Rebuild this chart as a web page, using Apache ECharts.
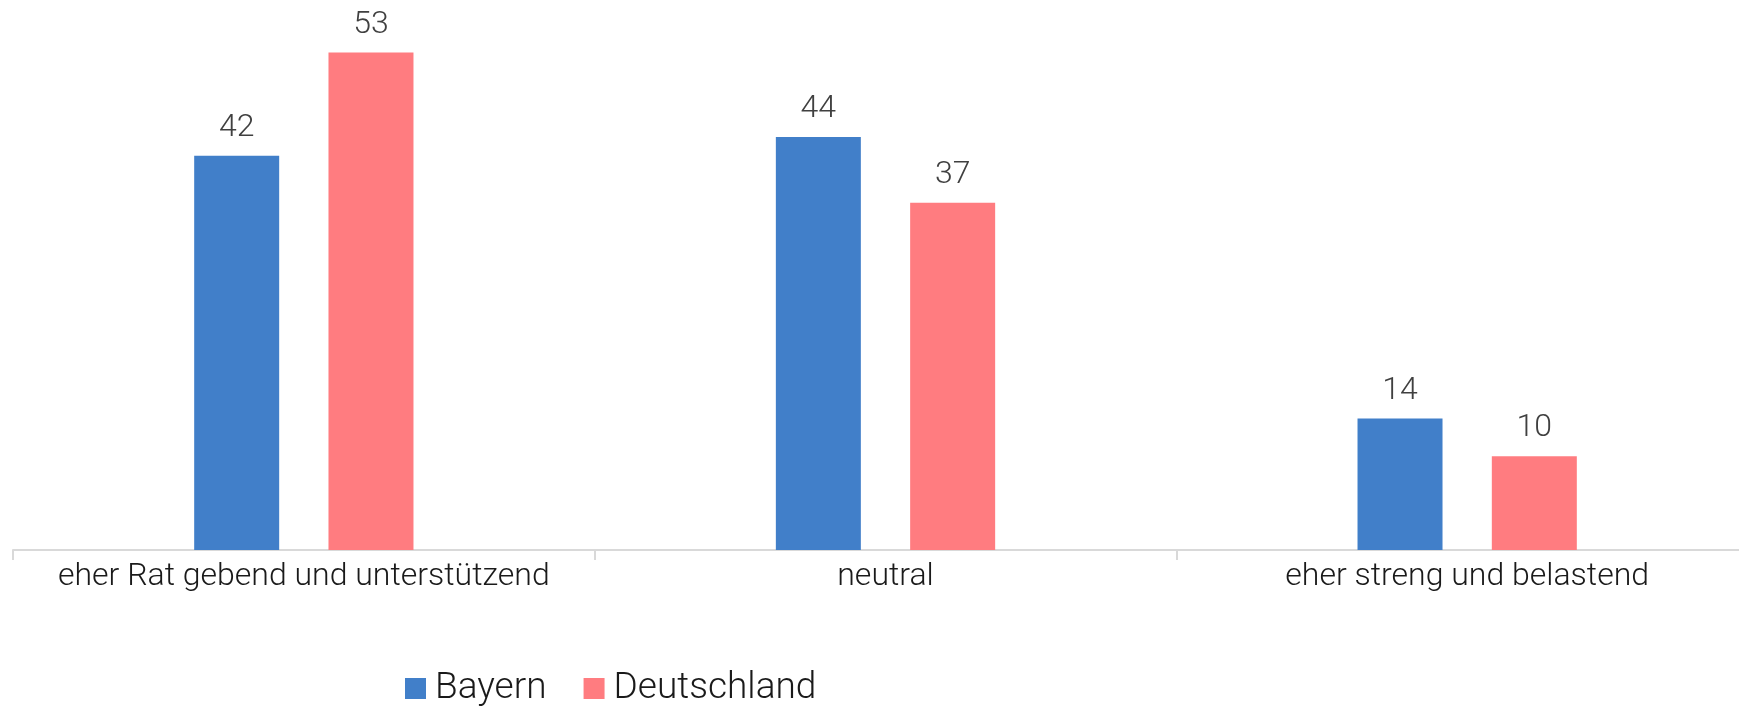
<!DOCTYPE html>
<html>
<head>
<meta charset="utf-8">
<script src="https://cdn.jsdelivr.net/npm/echarts@6/dist/echarts.min.js"></script>
<style>
  html, body { margin: 0; padding: 0; background: #fff; overflow: hidden; }
  #chart { width: 1760px; height: 710px; }
</style>
</head>
<body>
<div id="chart"></div>
<script>
// Bewertung der Eltern – Anteile in Prozent
const categories = ['eher Rat gebend und unterstützend', 'neutral', 'eher streng und belastend'];
const seriesNames = ['Bayern', 'Deutschland'];
const bayern = [42, 44, 14];
const deutschland = [53, 37, 10];

const FONT = 'Roboto, "Noto Sans", sans-serif';
const colors = ['#417FC9', '#FF7C80'];

const valueLabel = {
  show: true,
  position: 'top',
  distance: 12,
  color: '#404040',
  fontFamily: FONT,
  fontWeight: 300,
  fontSize: 32
};

const chart = echarts.init(document.getElementById('chart'), null, { renderer: 'canvas' });
chart.setOption({
  animation: false,
  backgroundColor: '#ffffff',
  color: colors,
  // the plot runs slightly past the right edge of the visible page
  grid: { left: 13, right: 2, top: 0, height: 550, containLabel: false },
  legend: {
    data: seriesNames,
    left: 405,
    top: 670,
    padding: 0,
    itemWidth: 21,
    itemHeight: 21,
    itemGap: 37,
    icon: 'rect',
    textStyle: { fontFamily: FONT, fontWeight: 300, fontSize: 37, color: '#1a1a1a', padding: [0, 0, 0, 4] }
  },
  xAxis: {
    type: 'category',
    data: categories,
    axisLine: { lineStyle: { color: '#d9d9d9', width: 2 } },
    axisTick: { show: true, length: 10, lineStyle: { color: '#d9d9d9', width: 2 } },
    axisLabel: {
      interval: 0,
      margin: 11,
      color: '#1a1a1a',
      fontFamily: FONT,
      fontWeight: 300,
      fontSize: 32
    }
  },
  yAxis: {
    type: 'value',
    min: 0,
    max: 58.6,
    show: false,
    splitLine: { show: false }
  },
  series: [
    {
      name: seriesNames[0],
      type: 'bar',
      data: bayern,
      barWidth: 85,
      barGap: '58%',
      label: valueLabel
    },
    {
      name: seriesNames[1],
      type: 'bar',
      data: deutschland,
      barWidth: 85,
      barGap: '58%',
      label: valueLabel
    }
  ]
});
</script>
</body>
</html>
